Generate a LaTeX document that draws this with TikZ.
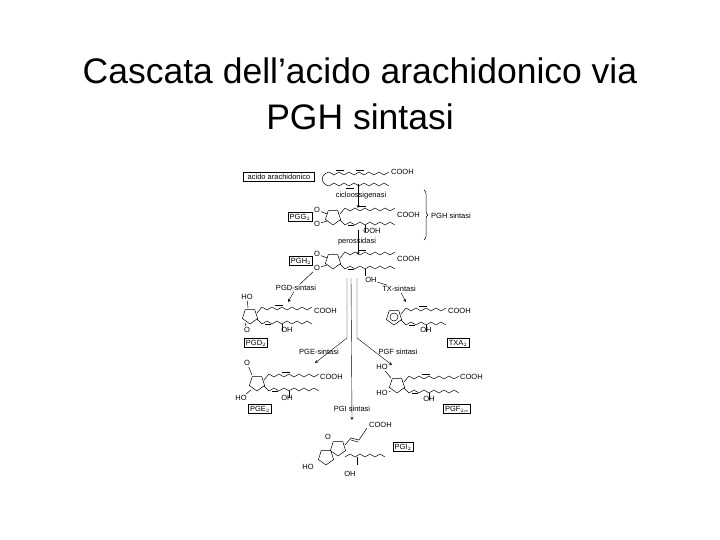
\documentclass[tikz,border=0pt]{standalone}
\usepackage{fontspec}
\setmainfont{Liberation Sans}
\usetikzlibrary{decorations.pathreplacing}

\tikzset{
  bond/.style={line width=0.5pt},
  lbl/.style={font=\fontsize{7.5}{9}\selectfont, inner sep=1pt},
  namebox/.style={draw, line width=0.5pt, font=\fontsize{7.5}{9}\selectfont, inner sep=1.5pt},
  step arrow/.style={->, >=stealth, line width=0.4pt}
}

% zigzag chain: start, number of pairs
\newcommand{\zig}[2]{\draw[bond] #1 \foreach \i in {1,...,#2}{-- ++(5,3) -- ++(5,-3)};}
\newcommand{\zag}[2]{\draw[bond] #1 \foreach \i in {1,...,#2}{-- ++(5,-3) -- ++(5,3)};}
% cyclopentane ring
\newcommand{\ring}[1]{\draw[bond] #1 +(162:8) -- +(90:8) -- +(18:8) -- +(306:8) -- +(234:8) -- cycle;}
% prostaglandin skeleton: x, y, pairs
\newcommand{\pg}[3]{
  \ring{(#1,#2)}
  \draw[bond] (#1+7,#2-3) -- ++(5,-6);
  \zig{(#1+12,#2-9)}{#3}
  \draw[bond] (#1+25,#2-11) -- (#1+33,#2-11);
  \draw[bond] (#1+7,#2+3) -- ++(5,5);
  \zag{(#1+12,#2+8)}{#3}
  \draw[bond] (#1+15,#2+8) -- (#1+21,#2+8);
  \draw[bond] (#1+32,#2+8) -- ++(0,7);
}

\begin{document}
\begin{tikzpicture}[x=1pt,y=-1pt]
\useasboundingbox (0,0) rectangle (720,540);

% title
\node (title) at (360,94) [align=center, font=\fontsize{35.5}{46}\selectfont]
  {Cascata dell’acido arachidonico via\\PGH sintasi};

% arachidonic acid
\node[namebox, inner xsep=4pt] (aa) at (279,177) {acido arachidonico};
\zig{(329,172)}{6}
\zag{(329,186)}{6}
\draw[bond] (329,172) .. controls (320,174) and (320,184) .. (329,186);
\draw[bond] (336,170) -- (344,170);
\draw[bond] (356,170) -- (364,170);
\draw[bond] (346,188) -- (354,188);
\node[lbl, anchor=west] (aacooh) at (390,172) {COOH};

\node[lbl] (cox) at (361,196) {cicloossigenasi};
\coordinate (aab) at (358,184);
\coordinate (pggt) at (358,208);
\draw[step arrow] (aab) -- (pggt);

% PGG2
\node[namebox] (pgg) at (300,217) {PGG$_2$};
\pg{333}{217}{5}
\node[lbl] (pggo1) at (317,210) {O};
\node[lbl] (pggo2) at (317,224) {O};
\draw[bond] (pggo1) -- (327,214);
\draw[bond] (pggo2) -- (327,221);
\node[lbl, anchor=west] (pggcooh) at (396,215) {COOH};
\node[lbl] (pggooh) at (372,231) {OOH};

% PGH synthase brace
\draw[bond, decorate, decoration={brace, amplitude=4pt}]
  (424,190) -- (424,240);
\node[lbl, anchor=west] (pghs) at (430,216) {PGH sintasi};

\node[lbl] (pox) at (357,242) {perossidasi};
\coordinate (pggb) at (358,230);
\coordinate (pght) at (358,255);
\draw[step arrow] (pggb) -- (pght);

% PGH2
\node[namebox] (pgh) at (301,261) {PGH$_2$};
\pg{333}{261}{5}
\node[lbl] (pgho1) at (317,254) {O};
\node[lbl] (pgho2) at (317,268) {O};
\draw[bond] (pgho1) -- (327,258);
\draw[bond] (pgho2) -- (327,265);
\node[lbl, anchor=west] (pghcooh) at (396,259) {COOH};
\node[lbl] (pghoh) at (371,280) {OH};

% PGD2
\node[lbl] (pgds) at (296,288) {PGD-sintasi};
\coordinate (pgdt) at (288,302);
\draw[bond] (pgho2) -- (pgds);
\draw[step arrow] (pgds) -- (pgdt);
\pg{250}{316}{5}
\node[lbl] (pgdho) at (247,297) {HO};
\draw[bond] (pgdho) -- (248,308);
\node[lbl] (pgdo) at (247,330) {O};
\draw[bond] (pgdo) -- (245,323);
\node[lbl] (pgdoh) at (287,330) {OH};
\node[lbl, anchor=west] (pgdcooh) at (313,311) {COOH};
\node[namebox] (pgd) at (256,343) {PGD$_2$};

% TXA2
\node[lbl] (txs) at (399,289) {TX-sintasi};
\coordinate (txt) at (406,302);
\draw[bond] (pghoh) -- (txs);
\draw[step arrow] (txs) -- (txt);
\pg{394}{317}{4}
\draw[bond] (394,317) circle (4);
\node[lbl] (txoh) at (426,330) {OH};
\node[lbl, anchor=west] (txcooh) at (447,311) {COOH};
\node[namebox] (txa) at (458,343) {TXA$_2$};

% central descending arrows
\coordinate (v1t) at (347,278);
\coordinate (v2t) at (351,278);
\coordinate (v3t) at (357,278);
\coordinate (pget) at (315,363);
\coordinate (pgft) at (392,365);
\coordinate (pgit) at (352,420);
\draw[step arrow] (v1t) -- (347,338) -- (pget);
\draw[step arrow] (v3t) -- (357,338) -- (pgft);
\draw[step arrow] (v2t) -- (pgit);

% PGE2
\node[lbl] (pges) at (319,352) {PGE-sintasi};
\pg{257}{383}{5}
\node[lbl] (pgeo) at (247,363) {O};
\draw[bond] (pgeo) -- (252,375);
\node[lbl] (pgeho) at (241,398) {HO};
\draw[bond] (pgeho) -- (251,390);
\node[lbl] (pgeoh) at (287,398) {OH};
\node[lbl, anchor=west] (pgecooh) at (319,377) {COOH};
\node[namebox] (pge) at (260,409) {PGE$_2$};

% PGF2alpha
\node[lbl] (pgfs) at (398,352) {PGF sintasi};
\pg{397}{385}{5}
\node[lbl] (pgfho1) at (382,367) {HO};
\draw[bond] (pgfho1) -- (391,378);
\node[lbl] (pgfho2) at (382,393) {HO};
\draw[bond] (pgfho2) -- (391,391);
\node[lbl] (pgfoh) at (429,399) {OH};
\node[lbl, anchor=west] (pgfcooh) at (459,377) {COOH};
\node[namebox] (pgf) at (457,409) {PGF$_{2\alpha}$};

% PGI2
\node[lbl] (pgis) at (352,409) {PGI sintasi};
\ring{(326,457)}
\ring{(338,448)}
\draw[bond] (345,445) -- (351,438) -- (359,440) -- (367,428);
\draw[bond] (351,440) -- (358,442);
\zag{(345,457)}{4}
\draw[bond] (357,457) -- ++(0,8);
\node[lbl] (pgio) at (328,437) {O};
\node[lbl] (pgiho) at (308,467) {HO};
\node[lbl] (pgioh) at (350,474) {OH};
\node[lbl, anchor=west] (pgicooh) at (368,425) {COOH};
\node[namebox] (pgi) at (403,447) {PGI$_2$};

\end{tikzpicture}
\end{document}
